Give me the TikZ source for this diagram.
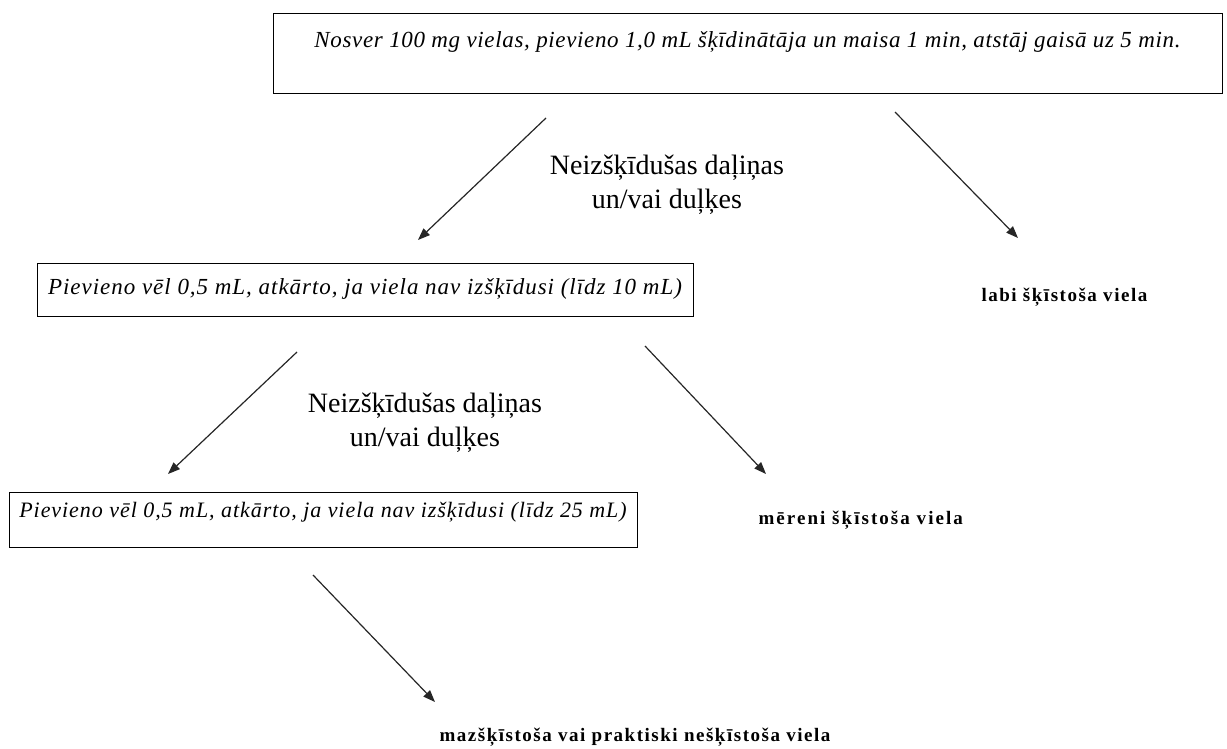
\documentclass[tikz,border=0pt]{standalone}
\usepackage{fontspec}
\setmainfont{Liberation Serif}
\usetikzlibrary{arrows.meta}

\begin{document}
\begin{tikzpicture}[x=1pt,y=-1pt,
    solis/.style={draw, line width=0.9pt, inner sep=0pt, align=center,
        font=\itshape\fontsize{23}{26}\selectfont},
    piezime/.style={align=center, font=\fontsize{28}{34}\selectfont},
    rezultats/.style={anchor=west, font=\bfseries\fontsize{19}{22}\selectfont},
    bulta/.style={-{Triangle[length=12pt,width=9pt]}, line width=1.2pt, black!85}]
    \useasboundingbox (0,0) rectangle (1227,749);
    % kastes ar soliem:
    \node[solis, minimum width=949, text height=35, text depth=45] (sakums) at (747.5,53)
        {\addfontfeature{LetterSpace=2.8}Nosver 100 mg vielas, pievieno 1,0 mL šķīdinātāja un maisa 1 min, atstāj gaisā uz 5 min.};
    \node[solis, minimum width=656, text height=31, text depth=22] (otrais) at (365,289.5)
        {\addfontfeature{LetterSpace=4.2}Pievieno vēl 0,5 mL, atkārto, ja viela nav izšķīdusi (līdz 10 mL)};
    \node[solis, minimum width=628, text height=25, text depth=30, font=\itshape\fontsize{22}{26}\selectfont] (tresais) at (323,519.5)
        {\addfontfeature{LetterSpace=4.3}Pievieno vēl 0,5 mL, atkārto, ja viela nav izšķīdusi (līdz 25 mL)};
    % piezimes pie bultam:
    \node[piezime] (dalinas1) at (667,185) {Neizšķīdušas daļiņas\\un/vai duļķes};
    \node[piezime] (dalinas2) at (425,423) {Neizšķīdušas daļiņas\\un/vai duļķes};
    % rezultati:
    \node[rezultats] (labi) at (978,297) {\addfontfeature{LetterSpace=8}labi šķīstoša viela};
    \node[rezultats] (mereni) at (755,520) {\addfontfeature{LetterSpace=10.8}mēreni šķīstoša viela};
    \node[rezultats] (maz) at (436,737) {\addfontfeature{LetterSpace=8}mazšķīstoša vai praktiski nešķīstoša viela};
    % bultu gali:
    \coordinate (b1s) at (546,118);  \coordinate (b1b) at (418,240);
    \coordinate (b2s) at (895,112);  \coordinate (b2b) at (1018,238);
    \coordinate (b3s) at (297,352);  \coordinate (b3b) at (168,474);
    \coordinate (b4s) at (645,346);  \coordinate (b4b) at (766,474);
    \coordinate (b5s) at (313,575);  \coordinate (b5b) at (435,702);
    \draw[bulta] (b1s) -- (b1b);
    \draw[bulta] (b2s) -- (b2b);
    \draw[bulta] (b3s) -- (b3b);
    \draw[bulta] (b4s) -- (b4b);
    \draw[bulta] (b5s) -- (b5b);
\end{tikzpicture}
\end{document}
